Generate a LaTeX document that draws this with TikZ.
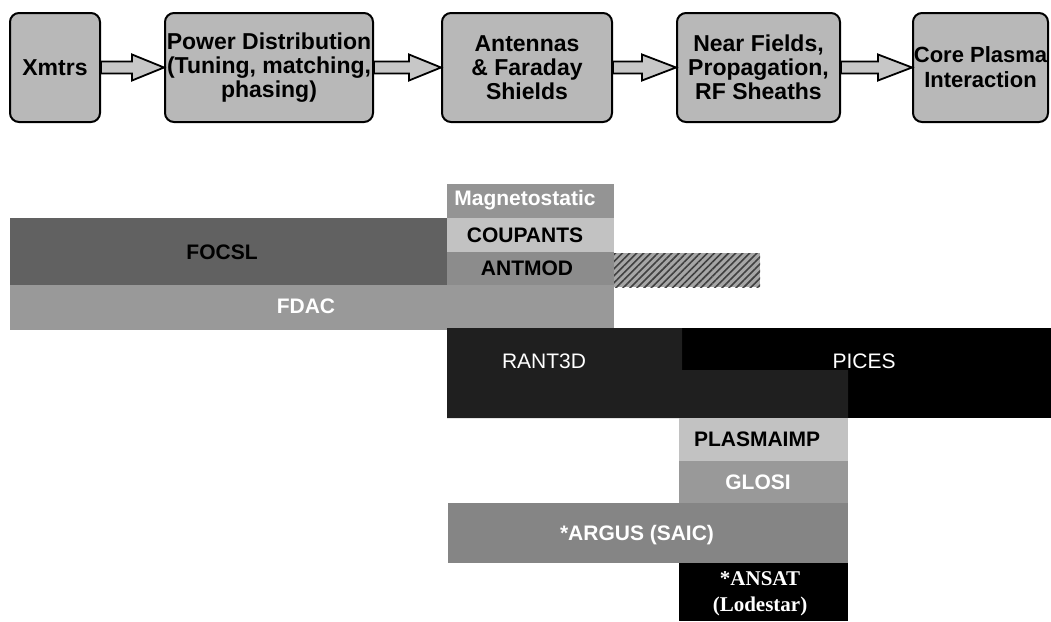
\documentclass[tikz,border=0pt]{standalone}
\usepackage{fontspec}
\setmainfont{Liberation Sans}
\newfontfamily\timesfont{Liberation Serif}
\usetikzlibrary{calc,patterns.meta}

\tikzset{
  stage/.style={draw, line width=2pt, rounded corners=9pt, fill=black!28,
    align=center, inner sep=0pt, minimum height=109pt,
    font=\fontsize{23}{24}\selectfont\bfseries},
  fatarrow/.style={draw, line width=1.8pt, fill=black!22, line join=miter},
  code/.style={inner sep=0pt, font=\fontsize{21}{24}\selectfont\bfseries},
  plaincode/.style={inner sep=0pt, text=white, font=\fontsize{21}{24}\selectfont},
}

\begin{document}
\begin{tikzpicture}[x=1pt, y=-1pt]
  \useasboundingbox (0,0) rectangle (1051,621);

  \node[stage, minimum width=90pt] (xmtrs) at (55, 67.5) {Xmtrs};
  \node[stage, minimum width=208pt] (power) at (269, 67.5) {Power Distribution\\(Tuning, matching,\\phasing)};
  \node[stage, minimum width=170pt] (ant) at (527, 67.5) {Antennas\\\& Faraday\\Shields};
  \node[stage, minimum width=163pt] (near) at (758.5, 67.5) {Near Fields,\\Propagation,\\RF Sheaths};
  \node[stage, minimum width=135pt, font=\fontsize{22}{25}\selectfont\bfseries] (core) at (980.5, 67.5) {Core Plasma\\Interaction};

  \draw[fatarrow] ($(xmtrs.east)+(0,-6)$) -- ($(power.west)+(-32,-6)$) -- ($(power.west)+(-32,-13)$) -- (power.west)
    -- ($(power.west)+(-32,13)$) -- ($(power.west)+(-32,6)$) -- ($(xmtrs.east)+(0,6)$) -- cycle;
  \draw[fatarrow] ($(power.east)+(0,-6)$) -- ($(ant.west)+(-32,-6)$) -- ($(ant.west)+(-32,-13)$) -- (ant.west)
    -- ($(ant.west)+(-32,13)$) -- ($(ant.west)+(-32,6)$) -- ($(power.east)+(0,6)$) -- cycle;
  \draw[fatarrow] ($(ant.east)+(0,-6)$) -- ($(near.west)+(-34,-6)$) -- ($(near.west)+(-34,-13)$) -- (near.west)
    -- ($(near.west)+(-34,13)$) -- ($(near.west)+(-34,6)$) -- ($(ant.east)+(0,6)$) -- cycle;
  \draw[fatarrow] ($(near.east)+(0,-6)$) -- ($(core.west)+(-34,-6)$) -- ($(core.west)+(-34,-13)$) -- (core.west)
    -- ($(core.west)+(-34,13)$) -- ($(core.west)+(-34,6)$) -- ($(near.east)+(0,6)$) -- cycle;

  % antenna codes
  \fill[black!62] (10,218) rectangle (447,285);
  \fill[black!40] (10,285) rectangle (614,330);
  \fill[black!42] (447,184) rectangle (614,218);
  \fill[black!24] (447,218) rectangle (614,252);
  \fill[black!45] (447,252) rectangle (614,285);
  \fill[black!35] (614,253) rectangle (760,287);
  \fill[pattern={Lines[angle=45, distance=5pt, line width=1.6pt]}, pattern color=black!75] (614,253) rectangle (760,287);

  \node[code, text=white] (magneto) at (525, 200) {Magnetostatic};
  \node[code] (coupants) at (525, 235) {COUPANTS};
  \node[code] (antmod) at (527, 268) {ANTMOD};
  \node[code] (focsl) at (222, 252) {FOCSL};
  \node[code, text=white] (fdac) at (306, 306) {FDAC};

  % plasma codes
  \fill[black] (447,328) rectangle (1051,418);
  \fill[black!88] (447,328) -- (682,328) -- (682,370) -- (848,370) -- (848,418) -- (447,418) -- cycle;
  \node[plaincode] (rant) at (544, 361) {RANT3D};
  \node[plaincode] (pices) at (864, 361) {PICES};

  \fill[black!24] (679,418) rectangle (848,461);
  \fill[black!40] (679,461) rectangle (848,503);
  \fill[black!48] (448,503) rectangle (848,563);
  \fill[black] (679,563) rectangle (848,621);

  \node[code] (plasmaimp) at (757, 439) {PLASMAIMP};
  \node[code, text=white] (glosi) at (758, 482) {GLOSI};
  \node[code, text=white] (argus) at (637, 535) {*ARGUS (SAIC)};
  \node[inner sep=0pt, text=white, align=center, font=\timesfont\fontsize{21}{26}\selectfont\bfseries] (ansat) at (760, 594) {*ANSAT\\(Lodestar)};
\end{tikzpicture}
\end{document}
